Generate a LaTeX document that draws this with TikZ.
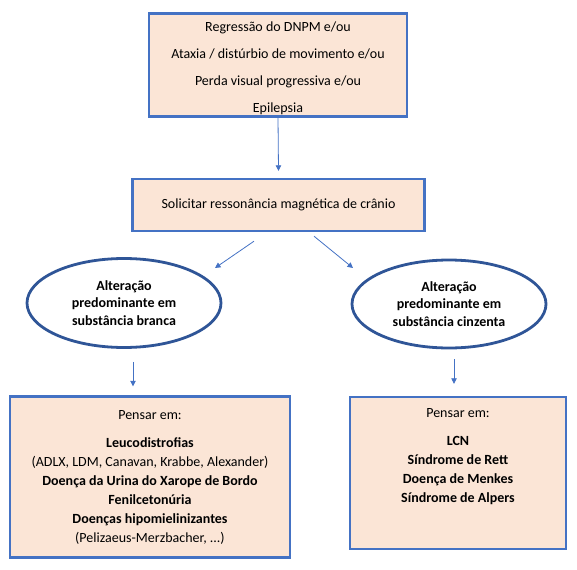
\documentclass[tikz,border=0pt]{standalone}
\usepackage{fontspec}
\setmainfont{Carlito}
\usetikzlibrary{shapes.geometric,arrows.meta}
\definecolor{boxblue}{RGB}{68,114,196}
\definecolor{ellblue}{RGB}{47,85,151}
\definecolor{peach}{RGB}{251,229,214}
\tikzset{
  box/.style={draw=boxblue, line width=2.4pt, fill=peach, inner sep=0pt, align=center, font=\fontsize{14}{17}\selectfont},
  ell/.style={ellipse, draw=ellblue, line width=2.8pt, fill=white, inner sep=0pt, align=center, font=\bfseries\fontsize{14}{17.5}\selectfont},
  arr/.style={draw=boxblue, line width=0.8pt, -{Triangle[length=5.5pt,width=5.5pt]}}
}
\begin{document}
\begin{tikzpicture}[x=1pt,y=1pt]
\useasboundingbox (0,0) rectangle (577,-569);
\node[box, minimum width=258pt, minimum height=103pt] (top) at (278,-65)
  {\rule{0pt}{16pt}Regressão do DNPM e/ou\\[10pt]Ataxia / distúrbio de movimento e/ou\\[10pt]Perda visual progressiva e/ou\\[10pt]Epilepsia};
\node[box, minimum width=292pt, minimum height=52pt] (mid) at (278.5,-205)
  {Solicitar ressonância magnética de crânio};
\node[ell, minimum width=194pt, minimum height=89pt] (L) at (124,-303)
  {Alteração\\predominante em\\substância branca};
\node[ell, minimum width=194pt, minimum height=88pt] (R) at (449,-304)
  {Alteração\\predominante em\\substância cinzenta};
\node[box, minimum width=280pt, minimum height=161pt, font=\fontsize{14}{19}\selectfont] (BL) at (150,-477)
  {Pensar em:\\[9pt]
   \textbf{Leucodistrofias}\\
   (ADLX, LDM, Canavan, Krabbe, Alexander)\\
   \textbf{Doença da Urina do Xarope de Bordo}\\
   \textbf{Fenilcetonúria}\\
   \textbf{Doenças hipomielinizantes}\\
   (Pelizaeus-Merzbacher, ...)};
\node[box, minimum width=216pt, minimum height=152pt] (BR) at (458,-473)
  {\parbox[c][128pt][t]{200pt}{\centering\fontsize{14}{19}\selectfont Pensar em:\\[9pt]
   \textbf{LCN}\\
   \textbf{Síndrome de Rett}\\
   \textbf{Doença de Menkes}\\
   \textbf{Síndrome de Alpers}}};
\draw[arr] (top.south) -- ([yshift=7pt]mid.north);
\draw[arr] ([xshift=-24.5pt,yshift=-9pt]mid.south) -- ([xshift=91pt,yshift=35pt]L.center);
\draw[arr] ([xshift=35.5pt,yshift=-4pt]mid.south) -- ([xshift=-96pt,yshift=36pt]R.center);
\draw[arr] ([xshift=9pt,yshift=-13pt]L.south) -- ([xshift=-17pt,yshift=9pt]BL.north);
\draw[arr] ([xshift=5pt,yshift=-10pt]R.south) -- ([xshift=-4pt,yshift=12pt]BR.north);
\end{tikzpicture}
\end{document}
